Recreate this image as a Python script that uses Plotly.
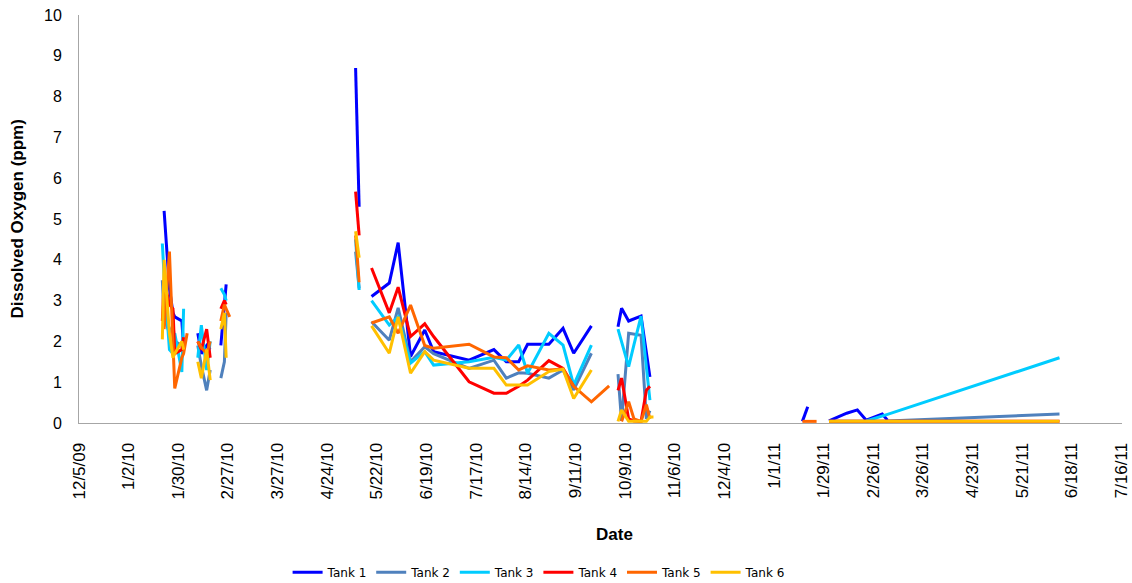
import plotly.graph_objects as go

dates = [
    "2010-01-20", "2010-01-21", "2010-01-22", "2010-01-25", "2010-01-27", "2010-01-28",
    "2010-02-01", "2010-02-02", "2010-02-04", "2010-02-07",
    "2010-02-10", "2010-02-12", "2010-02-15", "2010-02-17", "2010-02-20",
    "2010-02-23", "2010-02-25", "2010-02-26", "2010-02-28", "2010-04-01",
    "2010-05-10", "2010-05-12", "2010-05-15",
    "2010-05-19", "2010-05-29", "2010-06-03", "2010-06-10", "2010-06-18", "2010-06-23",
    "2010-07-13", "2010-07-27", "2010-08-03", "2010-08-10", "2010-08-15", "2010-08-27",
    "2010-09-04", "2010-09-10", "2010-09-20", "2010-09-30", "2010-10-02",
    "2010-10-05", "2010-10-07", "2010-10-11", "2010-10-14", "2010-10-18", "2010-10-21",
    "2010-10-23", "2010-10-25", "2010-12-01",
    "2011-01-17", "2011-01-20", "2011-01-25", "2011-01-28",
    "2011-02-01", "2011-02-11", "2011-02-17", "2011-02-22", "2011-03-03", "2011-03-06",
    "2011-06-11",
]

N = None
tank1 = [N, N, 5.2, 3.3, 2.7, 2.6, 2.5, 1.85, N, N,
         2.2, 1.7, 1.9, 1.8, N, 1.9, 2.9, 3.4, N, N,
         8.7, 5.3, N,
         3.1, 3.43, 4.42, 1.63, 2.28, 1.75, 1.54, 1.8, 1.5, 1.5, 1.93, 1.93, 2.32, 1.71, 2.38, N, N,
         2.36, 2.81, 2.5, 2.55, 2.62, 1.72, 1.13, N, N,
         0.04, 0.4, N, N, 0.05, 0.24, 0.32, 0.07, 0.22, 0.07, N]
tank2 = [N, 3.5, 2.6, 2.2, 2.4, 2.0, 1.9, 1.7, N, N,
         1.9, 1.4, 0.8, 1.3, N, 1.1, 1.5, 2.7, N, N,
         4.2, 3.3, N,
         2.48, 2.03, 2.82, 1.5, 1.87, 1.7, 1.34, 1.54, 1.1, 1.23, 1.22, 1.1, 1.3, 0.81, 1.71, N, N,
         1.2, 0.05, 2.2, 2.18, 2.15, 0.1, 0.3, N, N,
         N, N, N, N, 0.04, 0.04, 0.04, 0.04, 0.05, 0.05, 0.22]
tank3 = [N, 4.4, 3.6, 1.8, 1.7, 2.2, 1.25, 2.8, N, N,
         1.6, 2.4, 1.3, 2.0, N, 3.3, 3.15, 3.0, N, N,
         4.5, 3.26, N,
         3.0, 2.4, 2.6, 1.47, 1.75, 1.42, 1.5, 1.61, 1.54, 1.91, 1.22, 2.2, 1.91, 0.93, 1.91, N, N,
         2.3, 2.0, 1.38, 1.92, 2.62, 1.37, 0.56, N, N,
         N, N, N, N, N, N, N, 0.05, 0.17, 0.21, 1.6]
tank4 = [N, 2.5, 3.5, 2.9, 2.8, 1.7, 1.8, 2.1, N, N,
         2.0, 1.8, 2.3, 1.6, N, 2.8, 3.0, 2.9, N, N,
         5.67, 4.6, N,
         3.8, 2.7, 3.33, 2.12, 2.43, 2.12, 1.01, 0.73, 0.73, 0.9, 1.05, 1.53, 1.34, 0.9, N, N, N,
         0.8, 1.1, 0.1, 0.05, 0.04, 0.8, 0.9, N, N,
         N, N, N, N, 0.04, 0.04, 0.04, 0.04, 0.04, 0.04, 0.04]
tank5 = [N, N, 2.3, 4.2, 1.97, 0.85, 1.6, 1.7, 2.2, N,
         2.0, 1.85, 1.7, 2.0, N, 2.5, 2.9, 2.8, 2.6, N,
         4.6, 3.45, N,
         2.45, 2.6, 2.2, 2.89, 1.9, 1.83, 1.93, 1.62, 1.6, 1.3, 1.4, 1.3, 1.32, 0.9, 0.52, 0.91, N,
         N, 0.04, 0.52, 0.1, 0.04, 0.45, 0.1, N, N,
         0.04, 0.04, 0.04, N, N, N, N, N, N, N, N]
tank6 = [N, 2.05, 4.0, 2.2, 1.6, 1.7, 2.0, 1.8, N, N,
         1.5, 1.1, 1.8, 1.05, N, 2.3, 2.7, 1.6, N, N,
         4.7, 4.05, N,
         2.38, 1.71, 2.6, 1.22, 1.75, 1.54, 1.34, 1.34, 0.93, 0.93, 0.93, 1.26, 1.32, 0.6, 1.3, N, N,
         0.04, 0.32, 0.04, 0.04, 0.04, 0.04, 0.15, 0.15, N,
         N, N, N, N, 0.04, 0.04, 0.04, 0.04, 0.04, 0.04, 0.04]

series_names = ["Tank 1", "Tank 2", "Tank 3", "Tank 4", "Tank 5", "Tank 6"]
series_values = [tank1, tank2, tank3, tank4, tank5, tank6]
series_colors = ["#0000FF", "#4F81BD", "#00CCFF", "#FF0000", "#FF6600", "#FFC000"]

tick_dates = [
    "2009-12-05", "2010-01-02", "2010-01-30", "2010-02-27", "2010-03-27", "2010-04-24",
    "2010-05-22", "2010-06-19", "2010-07-17", "2010-08-14", "2010-09-11", "2010-10-09",
    "2010-11-06", "2010-12-04", "2011-01-01", "2011-01-29", "2011-02-26", "2011-03-26",
    "2011-04-23", "2011-05-21", "2011-06-18", "2011-07-16",
]
tick_labels = [
    "12/5/09", "1/2/10", "1/30/10", "2/27/10", "3/27/10", "4/24/10", "5/22/10", "6/19/10",
    "7/17/10", "8/14/10", "9/11/10", "10/9/10", "11/6/10", "12/4/10", "1/1/11", "1/29/11",
    "2/26/11", "3/26/11", "4/23/11", "5/21/11", "6/18/11", "7/16/11",
]
y_ticks = list(range(0, 11))

fig = go.Figure()
for name, vals, col in zip(series_names, series_values, series_colors):
    fig.add_trace(go.Scatter(
        x=dates, y=vals, name=name, mode="lines",
        line=dict(color=col, width=3), connectgaps=False,
    ))

x_font = dict(family="Liberation Sans, Arial, sans-serif", size=17, color="#000000")
y_font = dict(family="Liberation Sans, Arial, sans-serif", size=16, color="#000000")

fig.update_layout(
    width=1132, height=583,
    margin=dict(l=79, r=10, t=15, b=160, autoexpand=False),
    paper_bgcolor="#FFFFFF", plot_bgcolor="#FFFFFF",
    showlegend=True,
    legend=dict(
        orientation="h", x=0.2, xanchor="left", y=-0.366, yanchor="middle",
        font=dict(family="DejaVu Sans, Verdana, sans-serif", size=12, color="#000000"),
        itemwidth=30, entrywidth=38.6, entrywidthmode="pixels", traceorder="normal",
    ),
    xaxis=dict(
        type="date", range=["2009-12-05", "2011-07-16 06:00"],
        tickmode="array", tickvals=tick_dates, ticktext=tick_labels,
        tickangle=-90, tickfont=x_font, ticks="",
        showgrid=False, zeroline=False, showline=True,
        linecolor="#A6A6A6", linewidth=1, layer="below traces",
        ticklabelstandoff=12, ticklabeloverflow="allow",
    ),
    yaxis=dict(
        range=[0, 10], tickmode="array", tickvals=y_ticks,
        tickfont=y_font, ticks="", showgrid=False, zeroline=False,
        showline=True, linecolor="#A6A6A6", linewidth=1, layer="below traces",
        ticklabelstandoff=13,
    ),
    annotations=[
        dict(text="<b>Date</b>", xref="paper", yref="paper", x=0.513, y=-0.274,
             xanchor="center", yanchor="middle", showarrow=False,
             font=dict(family="Liberation Sans, Arial, sans-serif", size=17, color="#000000")),
        dict(text="<b>Dissolved Oxygen (ppm)</b>", xref="paper", yref="paper",
             x=-0.059, y=0.5, xanchor="center", yanchor="middle", textangle=-90,
             showarrow=False,
             font=dict(family="Liberation Sans, Arial, sans-serif", size=17, color="#000000")),
    ],
)

fig.write_html(
    "out.html",
    config={"displayModeBar": False},
    post_script="document.body.style.margin='0px';document.body.style.overflow='hidden';",
)
